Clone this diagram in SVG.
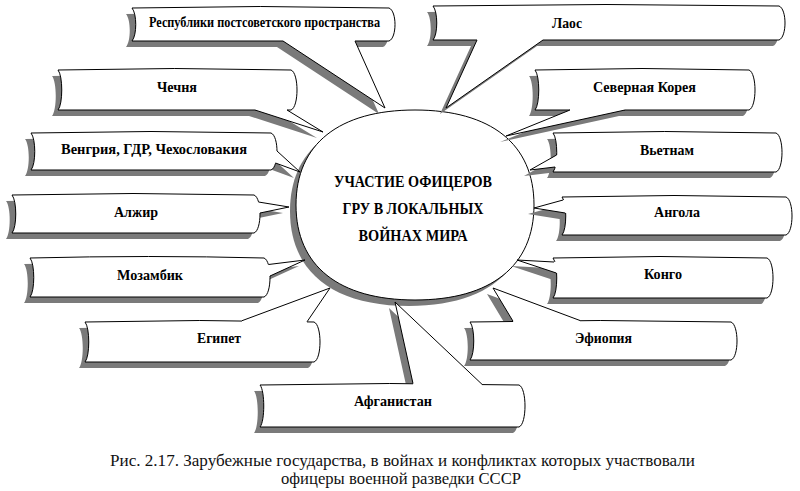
<svg xmlns="http://www.w3.org/2000/svg" xmlns:xlink="http://www.w3.org/1999/xlink" width="800" height="491" viewBox="0 0 800 491">
<style>
.sh{fill:#7a7a7a;stroke:none}
.box{fill:#fff;stroke:#000;stroke-width:1}
.wf{fill:#fff;stroke:none}
.ws{fill:none;stroke:#000;stroke-width:1;stroke-linejoin:miter}
.lbl{font-family:"Liberation Serif","Times New Roman",serif;font-weight:bold;font-size:14px;fill:#000;text-anchor:middle}
.ctr{font-family:"Liberation Serif","Times New Roman",serif;font-weight:bold;font-size:16px;fill:#000;text-anchor:middle}
.cap{font-family:"Liberation Serif","Times New Roman",serif;font-size:16px;fill:#111;text-anchor:middle}
</style>
<defs>
<path id="ell" d="M415,110 C491,110 534,144 534,205 C534,266 491,300 415,300 C339,300 296,266 296,205 C296,144 339,110 415,110 Z"/>
<path id="b1" d="M132,8 Q260,5 389,8 C397,11 397,38 389,41 L132,41 C137,35 137,14 132,8 Z"/>
<polygon id="w1" points="283,37 283,41 385,108 355,41 355,37"/>
<path id="b2" d="M433,6 Q606,3 779,6 C787,9 787,37 779,40 L433,40 C438,34 438,12 433,6 Z"/>
<polygon id="w2" points="477,36 477,40 446,108 543,40 543,36"/>
<path id="b3" d="M58,70 Q174,67 291,70 C299,73 299,107 291,110 L58,110 C63,104 63,76 58,70 Z"/>
<polygon id="w3" points="255,106 255,110 323,132 287,110 287,106"/>
<path id="b4" d="M31,133 Q151,130 271,133 C279,136 279,167 271,170 L31,170 C36,164 36,139 31,133 Z"/>
<polygon id="w4" points="272,151 277,151 300,172 275.5,163 271,163"/>
<path id="b5" d="M12,195 Q133,192 254,195 C262,198 262,230 254,233 L12,233 C17,227 17,201 12,195 Z"/>
<polygon id="w5" points="254,202 258.5,202 289,207 260,213 255,213"/>
<path id="b6" d="M30,258 Q150,255 264,258 C272,261 272,294 264,297 L30,297 C35,291 35,264 30,258 Z"/>
<polygon id="w6" points="264,264.5 268.5,264.5 305,260 270,276 265,276"/>
<path id="b7" d="M85,322 Q200,319 314,322 C322,325 322,359 314,362 L85,362 C90,356 90,328 85,322 Z"/>
<polygon id="w7" points="242,325 242,320.7 330,288 307,321.8 307,325"/>
<path id="b8" d="M260,385 Q390,382 519,385 C527,388 527,424 519,427 L260,427 C265,421 265,391 260,385 Z"/>
<polygon id="w8" points="413,388 413,383.5 395,302 482,384.3 482,388"/>
<path id="b9" d="M535,70 Q642,67 749,70 C757,73 757,107 749,110 L535,110 C540,104 540,76 535,70 Z"/>
<polygon id="w9" points="570,106 570,110 506,136 625,110 625,106"/>
<path id="b10" d="M553,133 Q665,130 776,133 C784,136 784,169 776,172 L553,172 C558,166 558,139 553,133 Z"/>
<polygon id="w10" points="561,155 556.6,155 530,170 555,167 560,167"/>
<path id="b11" d="M562,197 Q674,194 786,197 C794,200 794,232 786,235 L562,235 C567,229 567,203 562,197 Z"/>
<polygon id="w11" points="568,200 563.1,200 534,208 565.2,213 569,213"/>
<path id="b12" d="M553,258 Q660,255 767,258 C775,261 775,295 767,298 L553,298 C558,292 558,264 553,258 Z"/>
<polygon id="w12" points="559,262 554,262 517,260 556.3,273 561,273"/>
<path id="b13" d="M470,322 Q600,319 731,322 C739,325 739,357 731,360 L470,360 C475,354 475,328 470,322 Z"/>
<polygon id="w13" points="513,325 513,321.2 493,288 580,320.5 580,325"/>
</defs>
<rect width="800" height="491" fill="#fff"/>

<g id="center">
<use href="#ell" class="sh" transform="translate(-6,6)"/>
<use href="#ell" class="box"/>
<text class="ctr" x="413" y="187" textLength="158" lengthAdjust="spacingAndGlyphs">УЧАСТИЕ ОФИЦЕРОВ</text>
<text class="ctr" x="413" y="214" textLength="141" lengthAdjust="spacingAndGlyphs">ГРУ В ЛОКАЛЬНЫХ</text>
<text class="ctr" x="413" y="241" textLength="109" lengthAdjust="spacingAndGlyphs">ВОЙНАХ МИРА</text>
</g>

<g id="connectors"></g>

<g id="n1">
<g class="sh" transform="translate(-6,6)"><use href="#b1"/><use href="#w1"/></g>
<use href="#b1" class="box"/><use href="#w1" class="wf"/>
<polyline class="ws" points="283,41 385,108 355,41"/>
<text class="lbl" x="264.5" y="27" textLength="231" lengthAdjust="spacingAndGlyphs">Республики постсоветского пространства</text>
</g>
<g id="n2">
<g class="sh" transform="translate(-6,6)"><use href="#b2"/><use href="#w2"/></g>
<use href="#b2" class="box"/><use href="#w2" class="wf"/>
<polyline class="ws" points="477,40 446,108 543,40"/>
<text class="lbl" x="567" y="28" textLength="30" lengthAdjust="spacingAndGlyphs">Лаос</text>
</g>
<g id="n3">
<g class="sh" transform="translate(-6,6)"><use href="#b3"/><use href="#w3"/></g>
<use href="#b3" class="box"/><use href="#w3" class="wf"/>
<polyline class="ws" points="255,110 323,132 287,110"/>
<text class="lbl" x="177" y="92" textLength="40" lengthAdjust="spacingAndGlyphs">Чечня</text>
</g>
<g id="n4">
<g class="sh" transform="translate(-6,6)"><use href="#b4"/><use href="#w4"/></g>
<use href="#b4" class="box"/><use href="#w4" class="wf"/>
<polyline class="ws" points="277,151 300,172 275.5,163"/>
<text class="lbl" x="154" y="154" textLength="186" lengthAdjust="spacingAndGlyphs">Венгрия, ГДР, Чехословакия</text>
</g>
<g id="n5">
<g class="sh" transform="translate(-6,6)"><use href="#b5"/><use href="#w5"/></g>
<use href="#b5" class="box"/><use href="#w5" class="wf"/>
<polyline class="ws" points="258.5,202 289,207 260,213"/>
<text class="lbl" x="136" y="217" textLength="44" lengthAdjust="spacingAndGlyphs">Алжир</text>
</g>
<g id="n6">
<g class="sh" transform="translate(-6,6)"><use href="#b6"/><use href="#w6"/></g>
<use href="#b6" class="box"/><use href="#w6" class="wf"/>
<polyline class="ws" points="268.5,264.5 305,260 270,276"/>
<text class="lbl" x="150" y="280" textLength="66" lengthAdjust="spacingAndGlyphs">Мозамбик</text>
</g>
<g id="n7">
<g class="sh" transform="translate(-6,6)"><use href="#b7"/><use href="#w7"/></g>
<use href="#b7" class="box"/><use href="#w7" class="wf"/>
<polyline class="ws" points="242,320.7 330,288 307,321.8"/>
<text class="lbl" x="219" y="343" textLength="44" lengthAdjust="spacingAndGlyphs">Египет</text>
</g>
<g id="n8">
<g class="sh" transform="translate(-6,6)"><use href="#b8"/><use href="#w8"/></g>
<use href="#b8" class="box"/><use href="#w8" class="wf"/>
<polyline class="ws" points="413,383.5 395,302 482,384.3"/>
<text class="lbl" x="393" y="406" textLength="78" lengthAdjust="spacingAndGlyphs">Афганистан</text>
</g>
<g id="n9">
<g class="sh" transform="translate(-6,6)"><use href="#b9"/><use href="#w9"/></g>
<use href="#b9" class="box"/><use href="#w9" class="wf"/>
<polyline class="ws" points="570,110 506,136 625,110"/>
<text class="lbl" x="644.5" y="92" textLength="103" lengthAdjust="spacingAndGlyphs">Северная Корея</text>
</g>
<g id="n10">
<g class="sh" transform="translate(-6,6)"><use href="#b10"/><use href="#w10"/></g>
<use href="#b10" class="box"/><use href="#w10" class="wf"/>
<polyline class="ws" points="556.6,155 530,170 555,167"/>
<text class="lbl" x="667" y="155" textLength="54" lengthAdjust="spacingAndGlyphs">Вьетнам</text>
</g>
<g id="n11">
<g class="sh" transform="translate(-6,6)"><use href="#b11"/><use href="#w11"/></g>
<use href="#b11" class="box"/><use href="#w11" class="wf"/>
<polyline class="ws" points="563.1,200 534,208 565.2,213"/>
<text class="lbl" x="677" y="217" textLength="46" lengthAdjust="spacingAndGlyphs">Ангола</text>
</g>
<g id="n12">
<g class="sh" transform="translate(-6,6)"><use href="#b12"/><use href="#w12"/></g>
<use href="#b12" class="box"/><use href="#w12" class="wf"/>
<polyline class="ws" points="554,262 517,260 556.3,273"/>
<text class="lbl" x="663" y="279" textLength="38" lengthAdjust="spacingAndGlyphs">Конго</text>
</g>
<g id="n13">
<g class="sh" transform="translate(-6,6)"><use href="#b13"/><use href="#w13"/></g>
<use href="#b13" class="box"/><use href="#w13" class="wf"/>
<polyline class="ws" points="513,321.2 493,288 580,320.5"/>
<text class="lbl" x="603.5" y="343" textLength="57" lengthAdjust="spacingAndGlyphs">Эфиопия</text>
</g>

<g id="caption">
<text class="cap" x="402.5" y="466" textLength="585" lengthAdjust="spacingAndGlyphs">Рис. 2.17. Зарубежные государства, в войнах и конфликтах которых участвовали</text>
<text class="cap" x="401" y="484" textLength="240" lengthAdjust="spacingAndGlyphs">офицеры военной разведки СССР</text>
</g>
</svg>
